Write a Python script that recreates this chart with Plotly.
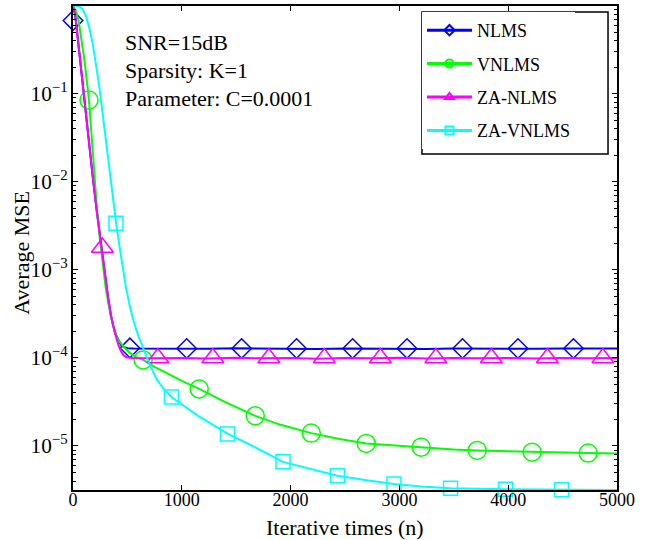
import plotly.graph_objects as go

# ---- learning curves (iteration index, average MSE) ----
n_nlms = [0, 20, 35, 50, 75, 100, 125, 150, 185, 220, 250, 280, 305, 325, 350, 370,
          395, 417, 440, 465, 500, 550, 750, 1000, 1250, 1500, 1750, 2000, 2250, 2500,
          2750, 3000, 3250, 3500, 3750, 4000, 4250, 4500, 4750, 5000]
mse_nlms = [1.0, 0.79, 0.54, 0.36, 0.19, 0.1, 0.052, 0.0275, 0.0105, 4.5e-3, 2.3e-3,
            1.17e-3, 7.4e-4, 4.6e-4, 3.0e-4, 2.3e-4, 1.82e-4, 1.58e-4, 1.41e-4, 1.33e-4,
            1.29e-4, 1.28e-4, 1.275e-4, 1.28e-4, 1.27e-4, 1.285e-4, 1.27e-4, 1.28e-4,
            1.26e-4, 1.28e-4, 1.27e-4, 1.275e-4, 1.265e-4, 1.28e-4, 1.27e-4, 1.285e-4,
            1.27e-4, 1.28e-4, 1.27e-4, 1.28e-4]

n_vnlms = [0, 25, 50, 75, 100, 125, 147, 170, 196, 220, 250, 275, 300, 325, 350, 386,
           420, 463, 520, 580, 645, 750, 900, 1000, 1160, 1400, 1675, 1900, 2190, 2450,
           2695, 3000, 3200, 3500, 3715, 4000, 4220, 4500, 4735, 5000]
mse_vnlms = [1.0, 0.89, 0.69, 0.45, 0.27, 0.148, 0.085, 0.035, 0.0112, 5.0e-3, 2.1e-3,
             1.05e-3, 6.3e-4, 4.2e-4, 2.9e-4, 1.9e-4, 1.58e-4, 1.35e-4, 1.15e-4, 1.02e-4,
             9.5e-5, 7.9e-5, 6.3e-5, 5.5e-5, 4.45e-5, 3.15e-5, 2.2e-5, 1.75e-5, 1.4e-5,
             1.2e-5, 1.07e-5, 1.0e-5, 9.7e-6, 9.1e-6, 8.9e-6, 8.7e-6, 8.5e-6, 8.4e-6,
             8.3e-6, 8.2e-6]

n_za_nlms = [0, 20, 35, 50, 75, 100, 125, 150, 185, 220, 250, 280, 305, 325, 350, 370,
             395, 417, 440, 465, 493, 550, 750, 1000, 1250, 1500, 1750, 2000, 2250, 2500,
             2750, 3000, 3250, 3500, 3750, 4000, 4250, 4500, 4750, 5000]
mse_za_nlms = [1.0, 0.79, 0.54, 0.36, 0.19, 0.1, 0.052, 0.0275, 0.0105, 4.5e-3, 2.3e-3,
               1.17e-3, 7.4e-4, 4.6e-4, 3.0e-4, 2.3e-4, 1.74e-4, 1.41e-4, 1.2e-4, 1.07e-4,
               1.02e-4, 1.0e-4, 0.99e-4, 1.0e-4, 0.985e-4, 1.005e-4, 0.99e-4, 1.0e-4,
               0.98e-4, 1.0e-4, 0.99e-4, 1.005e-4, 0.985e-4, 1.0e-4, 0.99e-4, 1.0e-4,
               0.985e-4, 1.0e-4, 0.99e-4, 1.0e-4]

n_za_vnlms = [0, 30, 60, 90, 120, 150, 180, 210, 240, 270, 300, 347, 395, 432, 461, 487,
              520, 554, 600, 640, 677, 720, 769, 830, 905, 1000, 1150, 1420, 1650, 1930,
              2200, 2430, 2700, 2950, 3200, 3470, 3975, 4490, 5000]
mse_za_vnlms = [1.0, 1.0, 0.98, 0.91, 0.76, 0.56, 0.38, 0.23, 0.126, 0.063, 0.0316, 0.01,
                3.5e-3, 1.7e-3, 1.0e-3, 6.3e-4, 4.0e-4, 2.7e-4, 1.78e-4, 1.32e-4, 1.02e-4,
                7.6e-5, 5.75e-5, 4.5e-5, 3.6e-5, 2.95e-5, 2.2e-5, 1.38e-5, 1.0e-5, 6.6e-6,
                5.4e-6, 4.6e-6, 4.07e-6, 3.7e-6, 3.47e-6, 3.3e-6, 3.22e-6, 3.18e-6, 3.16e-6]

# ---- marker positions along each curve ----
mk_n_nlms = [0, 523, 1045, 1550, 2055, 2570, 3070, 3580, 4090, 4600]
mk_v_nlms = [0.68, 1.3e-4, 1.28e-4, 1.28e-4, 1.28e-4, 1.28e-4, 1.28e-4, 1.28e-4, 1.28e-4, 1.28e-4]

mk_n_vnlms = [147, 645, 1160, 1675, 2190, 2695, 3200, 3715, 4220, 4735]
mk_v_vnlms = [0.085, 9.5e-5, 4.45e-5, 2.2e-5, 1.4e-5, 1.07e-5, 9.7e-6, 8.9e-6, 8.5e-6, 8.3e-6]

mk_n_za_nlms = [270, 780, 1285, 1800, 2310, 2825, 3335, 3845, 4360, 4870]
mk_v_za_nlms = [1.8e-3, 1.0e-4, 1.0e-4, 1.0e-4, 1.0e-4, 1.0e-4, 1.0e-4, 1.0e-4, 1.0e-4, 1.0e-4]

mk_n_za_vnlms = [395, 905, 1420, 1930, 2430, 2950, 3470, 3975, 4490]
mk_v_za_vnlms = [3.4e-3, 3.6e-5, 1.37e-5, 6.6e-6, 4.6e-6, 3.7e-6, 3.3e-6, 3.22e-6, 3.18e-6]

series_names = ["NLMS", "VNLMS", "ZA-NLMS", "ZA-VNLMS"]
x_ticks = [0, 1000, 2000, 3000, 4000, 5000]
info_lines = ["SNR=15dB", "Sparsity: K=1", "Parameter: C=0.0001"]
x_title = "Iterative times (n)"
y_title = "Average MSE"

FONT = "Liberation Serif"
colors = ["#0000ff", "#00ff00", "#ff00ff", "#00ffff"]
symbols = ["diamond-open", "circle-open", "triangle-up-open", "square-open"]
msizes = [15, 18, 19, 14]
curves = [(n_nlms, mse_nlms), (n_vnlms, mse_vnlms),
          (n_za_nlms, mse_za_nlms), (n_za_vnlms, mse_za_vnlms)]
marks = [(mk_n_nlms, mk_v_nlms), (mk_n_vnlms, mk_v_vnlms),
         (mk_n_za_nlms, mk_v_za_nlms), (mk_n_za_vnlms, mk_v_za_vnlms)]

fig = go.Figure()
for i, name in enumerate(series_names):
    cx, cy = curves[i]
    fig.add_trace(go.Scatter(x=cx, y=cy, mode="lines", showlegend=False,
                             line=dict(color=colors[i], width=2), hoverinfo="skip"))
    mx, my = marks[i]
    fig.add_trace(go.Scatter(x=mx, y=my, mode="markers", showlegend=False,
                             cliponaxis=False,
                             marker=dict(symbol=symbols[i], size=msizes[i],
                                         color=colors[i],
                                         line=dict(color=colors[i], width=1.5))))

# legend entries (line + marker sample)
for i, name in enumerate(series_names):
    fig.add_trace(go.Scatter(x=[None], y=[None], mode="lines+markers", name=name,
                             legendgroup=name,
                             line=dict(color=colors[i], width=3),
                             marker=dict(symbol=symbols[i], size=8, color=colors[i],
                                         line=dict(color=colors[i], width=2))))

for k, t in enumerate(info_lines):
    fig.add_annotation(text=t, xref="paper", yref="paper",
                       x=0.092, y=0.9236 - k * 0.0575, xanchor="left", yanchor="middle",
                       showarrow=False, font=dict(family=FONT, size=22, color="black"))

# axis titles placed in paper coordinates
fig.add_annotation(text=x_title, xref="paper", yref="paper", x=0.5, y=-0.0785,
                   xanchor="center", yanchor="middle", showarrow=False,
                   font=dict(family=FONT, size=22, color="black"))
fig.add_annotation(text=y_title, xref="paper", yref="paper", x=-0.094, y=0.49,
                   xanchor="center", yanchor="middle", textangle=-90, showarrow=False,
                   font=dict(family=FONT, size=22, color="black"))

# frame around the legend block
fig.add_shape(type="rect", xref="paper", yref="paper",
              x0=0.6415, x1=0.9835, y0=0.6942, y1=0.9876,
              line=dict(color="black", width=1.5), fillcolor="rgba(0,0,0,0)",
              layer="above")

fig.update_layout(
    width=659, height=540,
    margin=dict(l=73, r=42, t=6, b=50),
    paper_bgcolor="white", plot_bgcolor="white",
    font=dict(family=FONT, color="black"),
    legend=dict(x=0.6415, y=0.9876, xanchor="left", yanchor="top",
                bgcolor="white", borderwidth=0,
                font=dict(family=FONT, size=18, color="black"),
                itemwidth=45, tracegroupgap=7),
    xaxis=dict(range=[0, 5000], tickvals=x_ticks, ticks="inside", ticklen=5,
               tickwidth=1, tickcolor="black", showline=True, linecolor="black",
               linewidth=2, mirror="allticks", showgrid=False, zeroline=False,
               automargin=False, ticklabelstandoff=-8,
               tickfont=dict(family=FONT, size=18, color="black")),
    yaxis=dict(type="log", range=[-5.5, -0.002], dtick=1, exponentformat="power",
               ticks="inside", ticklen=5, tickwidth=1, tickcolor="black",
               showline=True, linecolor="black", linewidth=2, mirror="allticks",
               showgrid=False, zeroline=False, automargin=False,
               minor=dict(ticks="inside", ticklen=3, tickcolor="black", showgrid=False),
               tickfont=dict(family=FONT, size=17, color="black")),
)

fig.write_html("out.html")
